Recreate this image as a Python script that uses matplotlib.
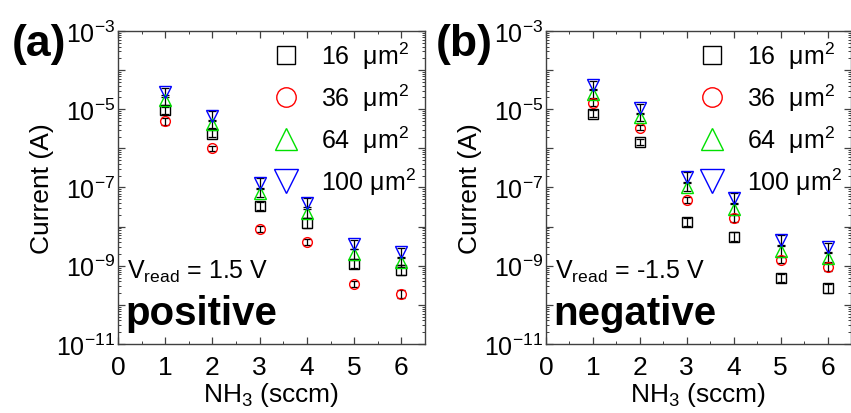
import matplotlib
matplotlib.use("Agg")
import matplotlib.pyplot as plt
from matplotlib.ticker import LogLocator, FuncFormatter, MultipleLocator, NullFormatter
import numpy as np

plt.rcParams['font.family'] = ['Liberation Sans', 'DejaVu Sans']
plt.rcParams['mathtext.fontset'] = 'custom'
plt.rcParams['mathtext.rm'] = 'Liberation Sans'
plt.rcParams['mathtext.it'] = 'Liberation Sans:italic'
plt.rcParams['mathtext.bf'] = 'Liberation Sans:bold'

# Данные: расход NH3 и логарифм тока (A)
nh3 = [1, 2, 3, 4, 5, 6]
areas = ["16", "36", "64", "100"]

# положительное напряжение считывания (+1.5 V), log10(I)
pos_16 = [-5.03, -5.62, -7.47, -7.91, -8.96, -9.11]
pos_36 = [-5.31, -6.00, -8.06, -8.39, -9.47, -9.72]
pos_64 = [-4.76, -5.38, -7.13, -7.64, -8.70, -8.91]
pos_100 = [-4.57, -5.17, -6.89, -7.40, -8.45, -8.66]

# отрицательное напряжение считывания (-1.5 V), log10(I)
neg_16 = [-5.11, -5.83, -7.88, -8.26, -9.32, -9.58]
neg_36 = [-4.83, -5.47, -7.32, -7.79, -8.86, -9.03]
neg_64 = [-4.60, -5.21, -6.98, -7.54, -8.62, -8.79]
neg_100 = [-4.39, -4.98, -6.74, -7.28, -8.34, -8.53]

# погрешность (в декадах)
err_16 = [0.10, 0.08, 0.10, 0.12, 0.10, 0.12]
err_36 = [0.08, 0.06, 0.08, 0.08, 0.08, 0.10]
err_64 = [0.12, 0.10, 0.12, 0.14, 0.12, 0.12]
err_100 = [0.12, 0.12, 0.14, 0.14, 0.12, 0.12]

colors = ["black", "red", "#00e000", "blue"]
markers = ["s", "o", "^", "v"]
msizes = [6.5, 7, 8, 8.5]

fig = plt.figure(figsize=(8.51, 4.14), dpi=100)
ax1 = fig.add_axes([0.1387, 0.1667, 0.3607, 0.756])
ax2 = fig.add_axes([0.6416, 0.1667, 0.3584, 0.756])


def exp_fmt(v, pos):
    e = int(round(np.log10(v)))
    if e % 2 == 0:
        return ""
    return r"$10^{%d}$" % e


def draw(ax, series, errs, vtext, word, letter, letter_x):
    x = np.array(nh3)
    for logy, err, c, m, ms, a in zip(series, errs, colors, markers, msizes, areas):
        y = 10.0 ** np.array(logy)
        e = np.array(err)
        lo = y - 10.0 ** (np.array(logy) - e)
        hi = 10.0 ** (np.array(logy) + e) - y
        ax.errorbar(x, y, yerr=[lo, hi], fmt="none", ecolor="black",
                    elinewidth=0.9, capsize=3, capthick=0.9, zorder=2)
        lab = "%s  \u03bcm$^2$" % a if a != "100" else "%s \u03bcm$^2$" % a
        ax.plot(x, y, linestyle="none", marker=m, markersize=ms,
                markerfacecolor="none", markeredgecolor=c, markeredgewidth=1.0,
                zorder=3, label=lab)
    ax.set_yscale("log")
    ax.set_ylim(1e-11, 1e-3)
    ax.set_xlim(0, 6.5)
    ax.xaxis.set_major_locator(MultipleLocator(1))
    ax.xaxis.set_minor_locator(MultipleLocator(0.5))
    ax.yaxis.set_major_locator(LogLocator(base=10, numticks=20))
    ax.yaxis.set_minor_locator(LogLocator(base=10, subs=np.arange(2, 10), numticks=20))
    ax.yaxis.set_major_formatter(FuncFormatter(exp_fmt))
    ax.yaxis.set_minor_formatter(NullFormatter())
    ax.tick_params(which="both", direction="in", top=True, right=True, colors="#404040",
                   labelcolor="black")
    ax.tick_params(which="major", length=5, width=0.9)
    ax.tick_params(which="minor", length=2.5, width=0.7)
    ax.tick_params(axis="x", labelsize=19, pad=8)
    ax.tick_params(axis="y", labelsize=18, pad=2)
    for s in ax.spines.values():
        s.set_color("#404040")
        s.set_linewidth(1.0)
    ax.set_xlabel("NH$_3$ (sccm)", fontsize=19, labelpad=1)
    ax.set_ylabel("Current (A)", fontsize=19, labelpad=2)
    ax.text(0.03, 0.235, vtext, transform=ax.transAxes, fontsize=18, ha="left", va="center")
    ax.text(0.025, 0.1, word, transform=ax.transAxes, fontsize=29, fontweight="bold",
            ha="left", va="center")
    ax.text(letter_x, 0.96, letter, transform=ax.transAxes, fontsize=32, fontweight="bold",
            ha="left", va="center")
    ax.legend(loc="upper right", bbox_to_anchor=(1.02, 1.02), frameon=False,
              fontsize=18, markerscale=2.0, handletextpad=0.9, labelspacing=0.42,
              handlelength=1.0, borderaxespad=0.2)


draw(ax1, [pos_16, pos_36, pos_64, pos_100], [err_16, err_36, err_64, err_100],
     r"V$_{\mathrm{read}}$ = 1.5 V", "positive", "(a)", -0.345)
draw(ax2, [neg_16, neg_36, neg_64, neg_100], [err_16, err_36, err_64, err_100],
     r"V$_{\mathrm{read}}$ = -1.5 V", "negative", "(b)", -0.362)

fig.savefig("out.png", dpi=100)
